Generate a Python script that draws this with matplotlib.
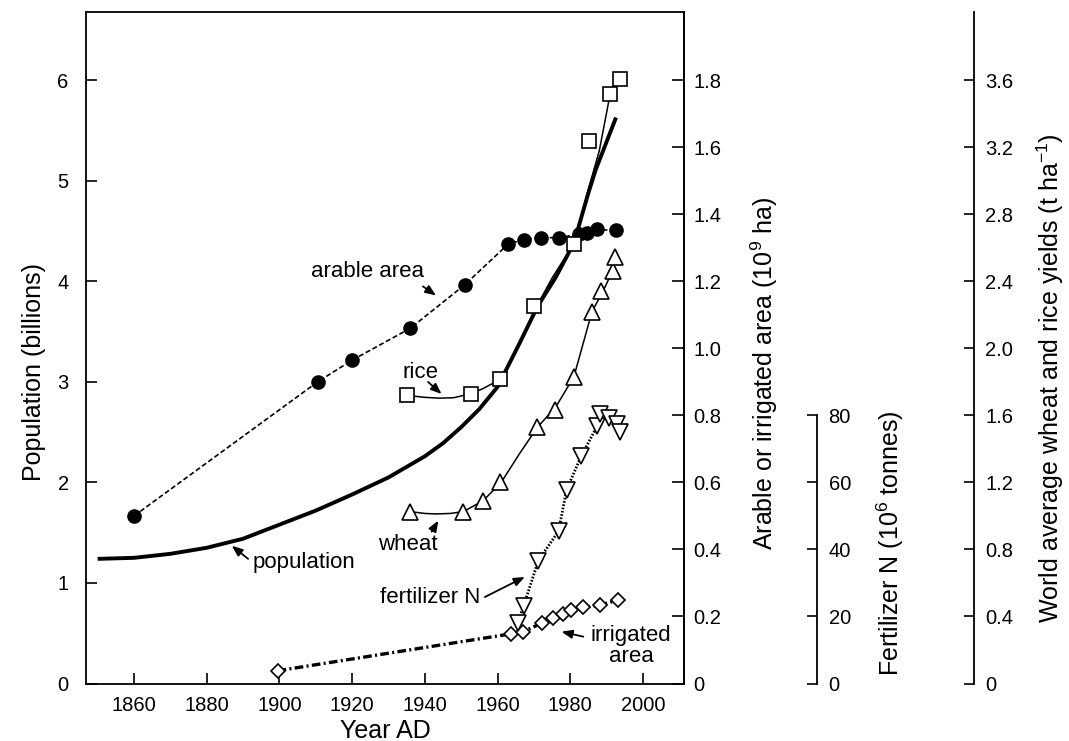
import matplotlib
matplotlib.use('Agg')
import matplotlib.pyplot as plt

plt.rcParams['font.family'] = ['Liberation Sans', 'DejaVu Sans']
plt.rcParams['mathtext.fontset'] = 'custom'
plt.rcParams['mathtext.rm'] = 'Liberation Sans'
plt.rcParams['mathtext.default'] = 'regular'

# population (billions)
pop_years = [1850, 1860, 1870, 1880, 1890, 1900, 1910, 1920, 1930, 1940, 1945, 1950,
             1955, 1960, 1966, 1971, 1976, 1981, 1985, 1987, 1992.6]
pop_vals = [1.24, 1.25, 1.29, 1.35, 1.44, 1.58, 1.72, 1.88, 2.05, 2.26, 2.39, 2.55,
            2.73, 2.95, 3.38, 3.75, 4.04, 4.38, 4.88, 5.11, 5.63]

# arable area (10^9 ha)
arable_years = [1860, 1910.5, 1920, 1936, 1951, 1963, 1967.3, 1972, 1977, 1982.5, 1984.5, 1987.5, 1992.5]
arable_vals = [0.50, 0.90, 0.965, 1.06, 1.19, 1.312, 1.325, 1.331, 1.33, 1.342, 1.345, 1.355, 1.352]

# irrigated area (10^9 ha)
irr_years = [1899.5, 1963.6, 1967.1, 1972.2, 1975.4, 1978.1, 1980.2, 1983.6, 1988.2, 1993.1]
irr_vals = [0.038, 0.148, 0.155, 0.180, 0.195, 0.207, 0.219, 0.227, 0.234, 0.249]

# fertilizer N (10^6 tonnes)
fert_years = [1965.5, 1967.2, 1971.2, 1976.8, 1979, 1983, 1987.4, 1988.2, 1990.8, 1992.8, 1993.7]
fert_vals = [18.2, 23.2, 36.6, 45.5, 57.8, 67.8, 76.8, 80.3, 79.3, 77.3, 75.0]

# rice yields (t/ha) and fitted curve
rice_years = [1935, 1952.7, 1960.7, 1970, 1981, 1985.2, 1991, 1993.7]
rice_vals = [1.72, 1.73, 1.815, 2.255, 2.625, 3.24, 3.52, 3.61]
rice_fit_years = [1935, 1940, 1944, 1948, 1952.7, 1956, 1960.7, 1965, 1970, 1975, 1981, 1985, 1988, 1991]
rice_fit_vals = [1.72, 1.708, 1.703, 1.706, 1.73, 1.76, 1.815, 1.98, 2.22, 2.42, 2.625, 2.95, 3.18, 3.52]

# wheat yields (t/ha) and fitted curve
wheat_years = [1935.9, 1950.6, 1956.1, 1960.7, 1970.8, 1975.8, 1981, 1985.9, 1988.6, 1991.7, 1992.4]
wheat_vals = [1.026, 1.026, 1.09, 1.20, 1.533, 1.633, 1.832, 2.22, 2.343, 2.465, 2.544]
wheat_fit_years = [1935.9, 1940, 1943, 1947, 1950.6, 1956, 1961, 1966, 1971, 1976, 1981, 1986, 1989, 1991.7]
wheat_fit_vals = [1.026, 1.015, 1.012, 1.015, 1.026, 1.09, 1.20, 1.37, 1.53, 1.65, 1.83, 2.22, 2.34, 2.465]

year_ticks = [1860, 1880, 1900, 1920, 1940, 1960, 1980, 2000]
pop_ticks = [0, 1, 2, 3, 4, 5, 6]
area_ticks = [0, 0.2, 0.4, 0.6, 0.8, 1.0, 1.2, 1.4, 1.6, 1.8]
area_labels = ['0', '0.2', '0.4', '0.6', '0.8', '1.0', '1.2', '1.4', '1.6', '1.8']
fert_ticks = [0, 20, 40, 60, 80]
yield_ticks = [0, 0.4, 0.8, 1.2, 1.6, 2.0, 2.4, 2.8, 3.2, 3.6]
yield_labels = ['0', '0.4', '0.8', '1.2', '1.6', '2.0', '2.4', '2.8', '3.2', '3.6']

W, H = 1069, 741
fig = plt.figure(figsize=(W / 100, H / 100), dpi=100)
ax = fig.add_axes([86 / W, 1 - 683.5 / H, 598 / W, 671.5 / H])
ymax = 6.68
ax.set_xlim(1846.8, 2011.3)
ax.set_ylim(0, ymax)

ax2 = ax.twinx()
ax2.set_ylim(0, ymax * 0.3)
ax3 = ax.twinx()
ax3.set_ylim(0, ymax * 30)
ax4 = ax.twinx()
ax4.set_ylim(0, ymax * 0.6)

for a in (ax, ax2, ax3, ax4):
    for s in a.spines.values():
        s.set_linewidth(1.3)
for a in (ax2, ax3, ax4):
    for side in ('left', 'top', 'bottom'):
        a.spines[side].set_visible(False)

ax3.spines['right'].set_position(('axes', (816.7 - 86) / 598))
ax3.spines['right'].set_bounds(0, 80)
ax4.spines['right'].set_position(('axes', (974 - 86) / 598))
ax4.spines['right'].set_bounds(0, ymax * 0.6)

# population
ax.plot(pop_years, pop_vals, color='k', lw=2.8, solid_capstyle='butt', zorder=2)

# arable + irrigated
ax2.plot(arable_years, arable_vals, color='k', lw=1.2, dashes=(3, 1.6),
         marker='o', ms=9.5, mfc='k', mec='k')
ax2.plot(irr_years, irr_vals, color='k', lw=2.4, dashes=(2.6, 1, 0.6, 1),
         marker='D', ms=7.5, mfc='white', mec='k', mew=1.2)

# fertilizer
ax3.plot(fert_years, fert_vals, color='k', lw=2.0, dashes=(0.6, 0.6),
         marker='v', ms=11.5, mfc='white', mec='k', mew=1.2)

# yields
ax4.plot(rice_fit_years, rice_fit_vals, color='k', lw=1.1)
ax4.plot(rice_years, rice_vals, ls='none', marker='s', ms=10.5, mfc='white', mec='k', mew=1.2)
ax4.plot(wheat_fit_years, wheat_fit_vals, color='k', lw=1.1)
ax4.plot(wheat_years, wheat_vals, ls='none', marker='^', ms=11.5, mfc='white', mec='k', mew=1.2)

# ticks
ax.set_xticks(year_ticks)
ax.set_yticks(pop_ticks)
ax.tick_params(axis='x', direction='in', length=8, width=1.2, labelsize=14.5, pad=9, top=False)
ax.tick_params(axis='y', direction='in', length=8, width=1.2, labelsize=14.5, pad=12.5, right=False)
ax2.set_yticks(area_ticks, labels=area_labels)
ax2.tick_params(axis='y', direction='in', length=8.5, width=1.2, labelsize=14.5, pad=7)
ax3.set_yticks(fert_ticks)
ax3.tick_params(axis='y', direction='in', length=7.5, width=1.2, labelsize=14.5, pad=8.5)
ax4.set_yticks(yield_ticks, labels=yield_labels)
ax4.tick_params(axis='y', direction='in', length=7.5, width=1.2, labelsize=14.5, pad=8)

# axis labels
fig.text(385 / W, 1 - 738 / H, 'Year AD', ha='center', va='baseline', fontsize=18)
fig.text(34 / W, 1 - 372 / H, 'Population (billions)', rotation=90, ha='center', va='center', fontsize=18)
fig.text(764 / W, 1 - 373 / H, 'Arable or irrigated area (10$^9$ ha)', rotation=90,
         ha='center', va='center', fontsize=18)
fig.text(890 / W, 1 - 543 / H, 'Fertilizer N (10$^6$ tonnes)', rotation=90,
         ha='center', va='center', fontsize=18)
fig.text(1050 / W, 1 - 378 / H, 'World average wheat and rice yields (t ha$^{-1}$)', rotation=90,
         ha='center', va='center', fontsize=18)

# annotations (in population-axis units)
arrow = dict(arrowstyle='-|>,head_length=0.4,head_width=0.16', lw=1.3, color='k',
             shrinkA=0, shrinkB=0, mutation_scale=16)
ax.text(1924.3, 4.10, 'arable area', ha='center', va='center', fontsize=16)
ax.annotate('', xy=(1943.1, 3.86), xytext=(1939.5, 3.95), arrowprops=arrow)
ax.text(1938.9, 3.09, 'rice', ha='center', va='center', fontsize=16)
ax.annotate('', xy=(1944.6, 2.88), xytext=(1940.9, 3.0), arrowprops=arrow)
ax.text(1935.4, 1.38, 'wheat', ha='center', va='center', fontsize=16)
ax.annotate('', xy=(1943.7, 1.62), xytext=(1941.9, 1.51), arrowprops=arrow)
ax.text(1906.8, 1.20, 'population', ha='center', va='center', fontsize=16)
ax.annotate('', xy=(1886.9, 1.37), xytext=(1891.4, 1.24), arrowprops=arrow)
ax.text(1941.4, 0.86, 'fertilizer N', ha='center', va='center', fontsize=16)
ax.annotate('', xy=(1967.5, 1.06), xytext=(1956.5, 0.86), arrowprops=arrow)
ax.text(1996.7, 0.37, 'irrigated\narea', ha='center', va='center', fontsize=16, linespacing=1.0)
ax.annotate('', xy=(1977.6, 0.515), xytext=(1983.6, 0.466), arrowprops=arrow)

fig.savefig('out.png', dpi=100)
